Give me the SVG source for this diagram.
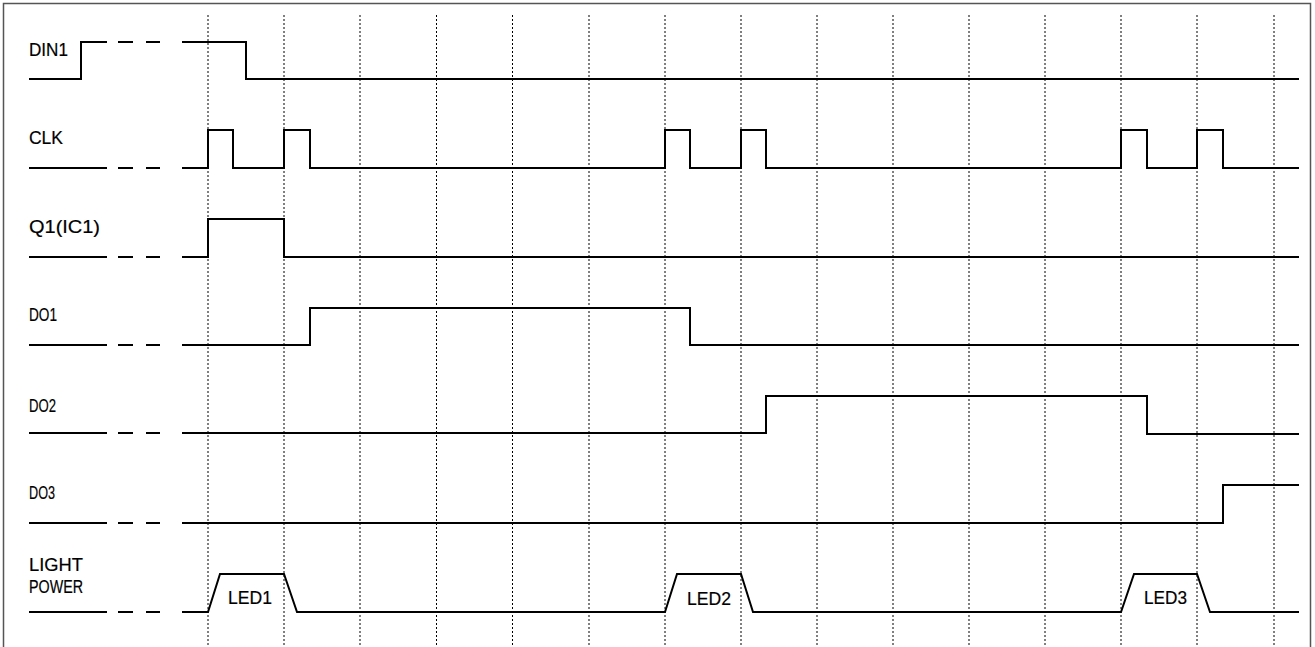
<svg xmlns="http://www.w3.org/2000/svg" width="1315" height="647" viewBox="0 0 1315 647">
<style>
.sig{fill:none;stroke:#000;stroke-width:2;stroke-linejoin:miter}
.grid{stroke:#000;stroke-width:1;stroke-dasharray:2 2;fill:none}
.lbl{font-family:"Liberation Sans",Arial,sans-serif;font-size:19px;fill:#000;stroke:#000;stroke-width:0.2}
</style>
<rect x="0" y="0" width="1315" height="647" fill="#fff"/>
<path d="M3.5,660 V3.5 H1310.5 V660" fill="none" stroke="#555" stroke-width="1.5"/>
<g id="connectors">
<g class="grid">
<line x1="208" y1="15" x2="208" y2="647"/>
<line x1="284" y1="15" x2="284" y2="647"/>
<line x1="360" y1="15" x2="360" y2="647"/>
<line x1="436.5" y1="15" x2="436.5" y2="647"/>
<line x1="512.5" y1="15" x2="512.5" y2="647"/>
<line x1="589" y1="15" x2="589" y2="647"/>
<line x1="665" y1="15" x2="665" y2="647"/>
<line x1="741" y1="15" x2="741" y2="647"/>
<line x1="817" y1="15" x2="817" y2="647"/>
<line x1="893" y1="15" x2="893" y2="647"/>
<line x1="969" y1="15" x2="969" y2="647"/>
<line x1="1045" y1="15" x2="1045" y2="647"/>
<line x1="1121" y1="15" x2="1121" y2="647"/>
<line x1="1197" y1="15" x2="1197" y2="647"/>
<line x1="1274" y1="15" x2="1274" y2="647"/>
</g>
</g>
<g id="din1">
<text class="lbl" x="29" y="56" textLength="39" lengthAdjust="spacingAndGlyphs">DIN1</text>
<path class="sig" d="M29,79 H81 V42 H107 M118,42 H133 M146,42 H160 M182,42 H246 V79 H1299"/>
</g>
<g id="clk">
<text class="lbl" x="29" y="144" textLength="34" lengthAdjust="spacingAndGlyphs">CLK</text>
<path class="sig" d="M29,168 H107 M118,168 H133 M146,168 H160 M182,168 H208 V130 H233 V168 H284 V130 H310 V168 H665 V130 H690 V168 H741 V130 H766 V168 H1121 V130 H1147 V168 H1197 V130 H1223 V168 H1299"/>
</g>
<g id="q1">
<text class="lbl" x="29" y="233" textLength="71" lengthAdjust="spacingAndGlyphs">Q1(IC1)</text>
<path class="sig" d="M29,257 H107 M118,257 H133 M146,257 H160 M182,257 H208 V219 H284 V257 H1299"/>
</g>
<g id="do1">
<text class="lbl" x="29" y="321" textLength="28" lengthAdjust="spacingAndGlyphs">DO1</text>
<path class="sig" d="M29,345 H107 M118,345 H133 M146,345 H160 M182,345 H310 V308 H690 V345 H1299"/>
</g>
<g id="do2">
<text class="lbl" x="29" y="412" textLength="27" lengthAdjust="spacingAndGlyphs">DO2</text>
<path class="sig" d="M29,433 H107 M118,433 H133 M146,433 H160 M182,433 H766 V396 H1147 V434 H1299"/>
</g>
<g id="do3">
<text class="lbl" x="29" y="499" textLength="26" lengthAdjust="spacingAndGlyphs">DO3</text>
<path class="sig" d="M29,523 H107 M118,523 H133 M146,523 H160 M182,523 H1223 V485 H1299"/>
</g>
<g id="light-power">
<text class="lbl" x="29" y="571" textLength="54" lengthAdjust="spacingAndGlyphs">LIGHT</text>
<text class="lbl" x="29" y="593" textLength="54" lengthAdjust="spacingAndGlyphs">POWER</text>
<path class="sig" d="M29,612 H107 M118,612 H133 M146,612 H160 M182,612 H208 L220,574 H284 L297,612 H665 L677,574 H741 L753,612 H1121 L1134,574 H1197 L1210,612 H1299"/>
<text class="lbl" x="228" y="604" textLength="44" lengthAdjust="spacingAndGlyphs">LED1</text>
<text class="lbl" x="687" y="605" textLength="44" lengthAdjust="spacingAndGlyphs">LED2</text>
<text class="lbl" x="1144" y="604" textLength="43" lengthAdjust="spacingAndGlyphs">LED3</text>
</g>
</svg>
